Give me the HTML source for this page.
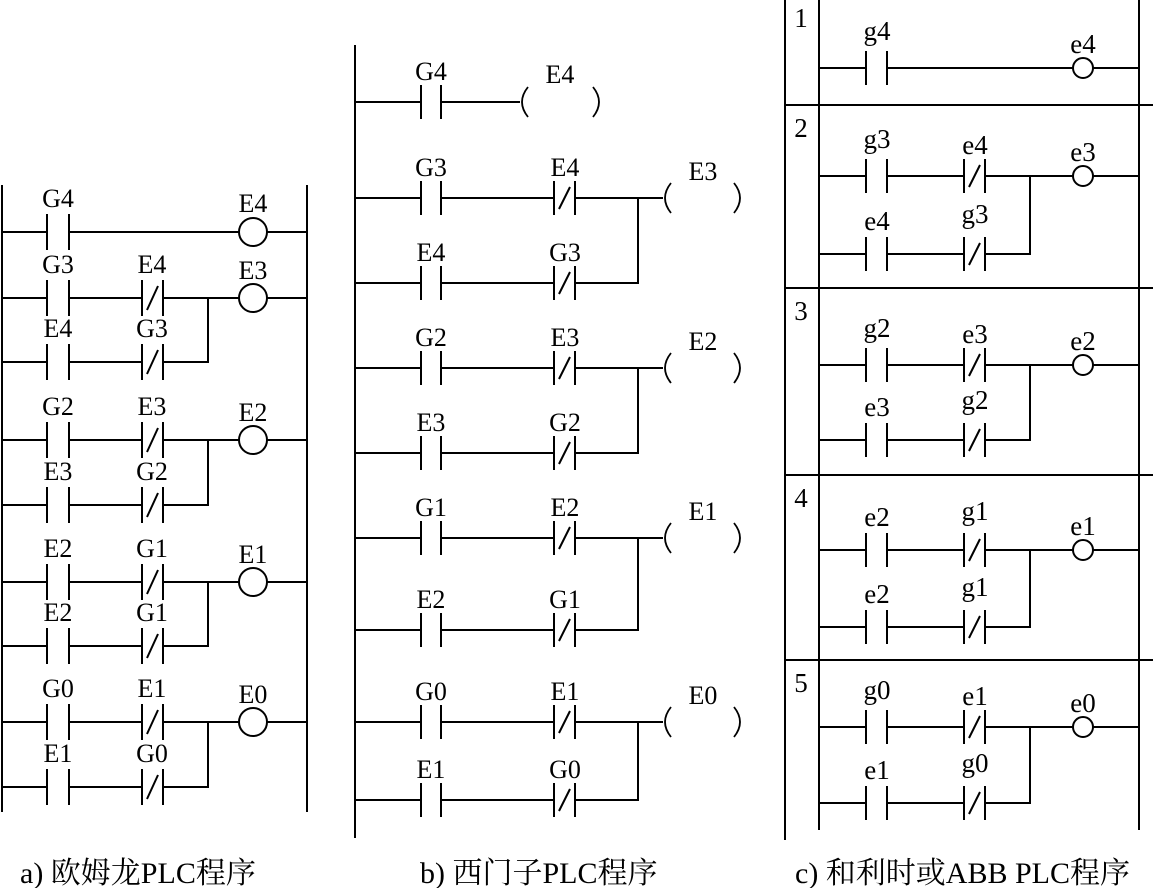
<!DOCTYPE html>
<html><head><meta charset="utf-8"><style>
html,body{margin:0;padding:0;background:#fff;}
svg{display:block}
.l{stroke:#000;stroke-width:2;fill:none}
text{font-family:"Liberation Serif","Noto Serif CJK SC",serif;fill:#000}
.a{font-size:26px;text-anchor:middle}
.c{font-size:27px;text-anchor:middle}
.cap{font-size:30px}
</style></head><body>
<svg width="1153" height="888" viewBox="0 0 1153 888" xmlns="http://www.w3.org/2000/svg">
<!-- Panel a -->
<g class="l">
<path d="M2,185V812M307,185V812"/>
<path d="M47,214V250M69,214V250 M47,280V316M69,280V316M142,280V316M163,280V316M147,310L158,286
M47,344V380M69,344V380M142,344V380M163,344V380M147,374L158,350
M47,422V458M69,422V458M142,422V458M163,422V458M147,452L158,428
M47,487V523M69,487V523M142,487V523M163,487V523M147,517L158,493
M47,564V600M69,564V600M142,564V600M163,564V600M147,594L158,570
M47,628V664M69,628V664M142,628V664M163,628V664M147,658L158,634
M47,704V740M69,704V740M142,704V740M163,704V740M147,734L158,710
M47,769V805M69,769V805M142,769V805M163,769V805M147,799L158,775"/>
<path d="M2,232H47M69,232H239M267,232H307
M2,298H47M69,298H142M163,298H239M267,298H307 M2,362H47M69,362H142M163,362H208V298
M2,440H47M69,440H142M163,440H239M267,440H307 M2,505H47M69,505H142M163,505H208V440
M2,582H47M69,582H142M163,582H239M267,582H307 M2,646H47M69,646H142M163,646H208V582
M2,722H47M69,722H142M163,722H239M267,722H307 M2,787H47M69,787H142M163,787H208V722"/>
<circle cx="253" cy="232" r="14"/><circle cx="253" cy="298" r="14"/><circle cx="253" cy="440" r="14"/><circle cx="253" cy="582" r="14"/><circle cx="253" cy="722" r="14"/>
</g>
<g class="a">
<text x="58" y="207">G4</text><text x="253" y="212">E4</text>
<text x="58" y="273">G3</text><text x="152" y="273">E4</text><text x="253" y="279">E3</text>
<text x="58" y="337">E4</text><text x="152" y="337">G3</text>
<text x="58" y="415">G2</text><text x="152" y="415">E3</text><text x="253" y="421">E2</text>
<text x="58" y="480">E3</text><text x="152" y="480">G2</text>
<text x="58" y="557">E2</text><text x="152" y="557">G1</text><text x="253" y="563">E1</text>
<text x="58" y="621">E2</text><text x="152" y="621">G1</text>
<text x="58" y="697">G0</text><text x="152" y="697">E1</text><text x="253" y="703">E0</text>
<text x="58" y="762">E1</text><text x="152" y="762">G0</text>
</g>
<!-- Panel b -->
<g class="l">
<path d="M355,45V838"/>
<path d="M421,85V119M441,85V119
M421,181V215M441,181V215M554,181V215M575,181V215M559,209L570,187
M421,266V300M441,266V300M554,266V300M575,266V300M559,294L570,272
M421,351V385M441,351V385M554,351V385M575,351V385M559,379L570,357
M421,436V470M441,436V470M554,436V470M575,436V470M559,464L570,442
M421,521V555M441,521V555M554,521V555M575,521V555M559,549L570,527
M421,613V647M441,613V647M554,613V647M575,613V647M559,641L570,619
M421,705V739M441,705V739M554,705V739M575,705V739M559,733L570,711
M421,783V817M441,783V817M554,783V817M575,783V817M559,811L570,789"/>
<path d="M355,102H421M441,102H520
M355,198H421M441,198H554M575,198H663 M355,283H421M441,283H554M575,283H638V198
M355,368H421M441,368H554M575,368H663 M355,453H421M441,453H554M575,453H638V368
M355,538H421M441,538H554M575,538H663 M355,630H421M441,630H554M575,630H638V538
M355,722H421M441,722H554M575,722H663 M355,800H421M441,800H554M575,800H638V722"/>
<path d="M528,87Q516,102 528,117M593,87Q605,102 593,117
M671,183Q659,198 671,213M734,183Q746,198 734,213
M671,353Q659,368 671,383M734,353Q746,368 734,383
M671,523Q659,538 671,553M734,523Q746,538 734,553
M671,707Q659,722 671,737M734,707Q746,722 734,737" stroke-width="1.8"/>
</g>
<g class="a">
<text x="431" y="80">G4</text><text x="560" y="83">E4</text>
<text x="431" y="176">G3</text><text x="565" y="176">E4</text><text x="703" y="180">E3</text>
<text x="431" y="261">E4</text><text x="565" y="261">G3</text>
<text x="431" y="346">G2</text><text x="565" y="346">E3</text><text x="703" y="350">E2</text>
<text x="431" y="431">E3</text><text x="565" y="431">G2</text>
<text x="431" y="516">G1</text><text x="565" y="516">E2</text><text x="703" y="520">E1</text>
<text x="431" y="608">E2</text><text x="565" y="608">G1</text>
<text x="431" y="700">G0</text><text x="565" y="700">E1</text><text x="703" y="704">E0</text>
<text x="431" y="778">E1</text><text x="565" y="778">G0</text>
</g>
<!-- Panel c -->
<g class="l">
<path d="M785,0V840M819,0V830M1139,0V830"/>
<path d="M785,105H1153M785,288H1153M785,475H1153M785,660H1153"/>
<path d="M866,51V85M887,51V85
M866,159V193M887,159V193M964,159V193M985,159V193M969,187L980,165
M866,237V271M887,237V271M964,237V271M985,237V271M969,265L980,243
M866,348V382M887,348V382M964,348V382M985,348V382M969,376L980,354
M866,423V457M887,423V457M964,423V457M985,423V457M969,451L980,429
M866,533V567M887,533V567M964,533V567M985,533V567M969,561L980,539
M866,610V644M887,610V644M964,610V644M985,610V644M969,638L980,616
M866,710V744M887,710V744M964,710V744M985,710V744M969,738L980,716
M866,786V820M887,786V820M964,786V820M985,786V820M969,814L980,792"/>
<path d="M819,68H866M887,68H1073M1093,68H1139
M819,176H866M887,176H964M985,176H1073M1093,176H1139 M819,254H866M887,254H964M985,254H1030V176
M819,365H866M887,365H964M985,365H1073M1093,365H1139 M819,440H866M887,440H964M985,440H1030V365
M819,550H866M887,550H964M985,550H1073M1093,550H1139 M819,627H866M887,627H964M985,627H1030V550
M819,727H866M887,727H964M985,727H1073M1093,727H1139 M819,803H866M887,803H964M985,803H1030V727"/>
<circle cx="1083" cy="68" r="10"/><circle cx="1083" cy="176" r="10"/><circle cx="1083" cy="365" r="10"/><circle cx="1083" cy="550" r="10"/><circle cx="1083" cy="727" r="10"/>
</g>
<g class="c">
<text x="801" y="27">1</text><text x="801" y="137">2</text><text x="801" y="320">3</text><text x="801" y="507">4</text><text x="801" y="692">5</text>
<text x="877" y="40">g4</text><text x="1083" y="53">e4</text>
<text x="877" y="148">g3</text><text x="975" y="154">e4</text><text x="1083" y="161">e3</text>
<text x="877" y="230">e4</text><text x="975" y="223">g3</text>
<text x="877" y="337">g2</text><text x="975" y="343">e3</text><text x="1083" y="350">e2</text>
<text x="877" y="416">e3</text><text x="975" y="409">g2</text>
<text x="877" y="526">e2</text><text x="975" y="520">g1</text><text x="1083" y="535">e1</text>
<text x="877" y="603">e2</text><text x="975" y="596">g1</text>
<text x="877" y="699">g0</text><text x="975" y="705">e1</text><text x="1083" y="712">e0</text>
<text x="877" y="779">e1</text><text x="975" y="772">g0</text>
</g>
<text class="cap" x="20" y="883">a) 欧姆龙PLC程序</text>
<text class="cap" x="420" y="883">b) 西门子PLC程序</text>
<text class="cap" x="795" y="883">c) 和利时或ABB PLC程序</text>
</svg>
</body></html>
